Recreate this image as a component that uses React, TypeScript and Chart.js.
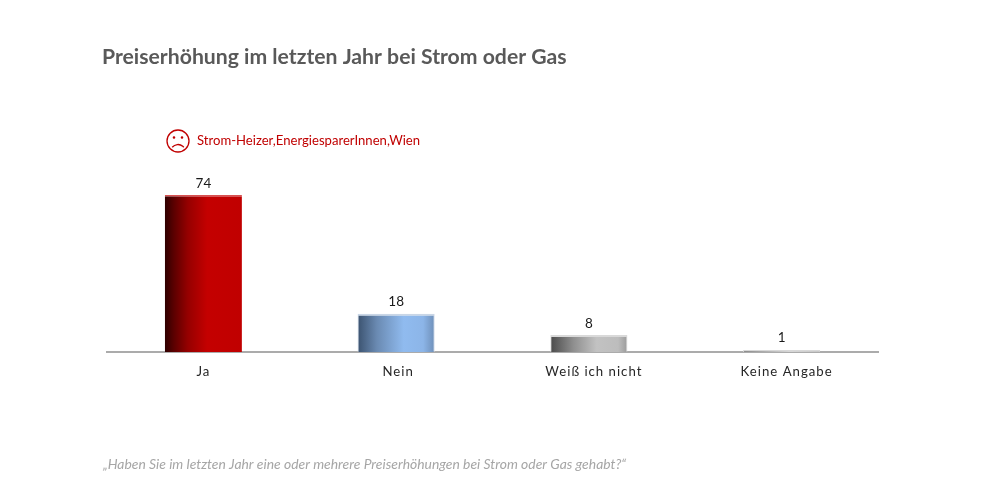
import React, { useEffect, useRef } from "react";
import { Chart, registerables } from "chart.js";

Chart.register(...registerables);

const categories = ["Ja", "Nein", "Weiß ich nicht", "Keine Angabe"];
const values = [74, 18, 8, 1];
const gradients: [number, string][][] = [
  [[0, "#2e0000"], [0.12, "#5c0000"], [0.3, "#960000"], [0.55, "#c40000"], [1, "#c00000"]],
  [[0, "#3b526f"], [0.25, "#6a8ab2"], [0.6, "#90bbef"], [0.85, "#8cb5e8"], [1, "#6e8fb8"]],
  [[0, "#4a4a4a"], [0.3, "#8f8f8f"], [0.6, "#c2c2c2"], [0.88, "#bdbdbd"], [1, "#9a9a9a"]],
  [[0, "#8a8a8a"], [0.6, "#d8d8d8"], [1, "#c8c8c8"]],
];
const edgeColors = ["#d85050", "#c9d6e6", "#d9d9d9", "#d8d8d8"];
const tickShift = [0, 2, 5, 5];
const titleText = "Preiserhöhung im letzten Jahr bei Strom oder Gas";
const legendText = "Strom-Heizer,EnergiesparerInnen,Wien";
const questionText = "„Haben Sie im letzten Jahr eine oder mehrere Preiserhöhungen bei Strom oder Gas gehabt?“";
const FONT = "Lato, 'Open Sans', sans-serif";

const overlay = {
  id: "overlay",
  beforeDraw(chart: any) {
    chart.ctx.letterSpacing = "1px";
    const items = chart.scales.x.getLabelItems(chart.chartArea);
    items.forEach((it: any, i: number) => {
      if (!it.shifted) {
        it.options.translation[0] += tickShift[i] || 0;
        it.shifted = true;
      }
    });
  },
  afterDatasetsDraw(chart: any) {
    const ctx = chart.ctx;
    ctx.save();
    ctx.letterSpacing = "0px";
    ctx.textBaseline = "alphabetic";
    ctx.textAlign = "center";
    ctx.fillStyle = "#1a1a1a";
    ctx.font = `13.5px ${FONT}`;
    chart.getDatasetMeta(0).data.forEach((bar: any, i: number) => {
      ctx.fillText(String(values[i]), bar.x, bar.y - 7.5);
    });
    ctx.textAlign = "left";
    ctx.fillStyle = "#595959";
    ctx.font = `bold 21.2px ${FONT}`;
    ctx.fillText(titleText, 102, 63.5);
    ctx.fillStyle = "#c00000";
    ctx.font = `13.1px ${FONT}`;
    ctx.fillText(legendText, 197, 145);
    ctx.fillStyle = "#a6a6a6";
    ctx.font = `italic 13.9px ${FONT}`;
    ctx.fillText(questionText, 103, 469);
    // sad face
    ctx.strokeStyle = "#c00000";
    ctx.fillStyle = "#c00000";
    ctx.lineWidth = 1.3;
    ctx.beginPath();
    ctx.arc(178, 141, 11, 0, Math.PI * 2);
    ctx.stroke();
    ctx.beginPath();
    ctx.arc(174, 137.5, 1.3, 0, Math.PI * 2);
    ctx.arc(182, 137.5, 1.3, 0, Math.PI * 2);
    ctx.fill();
    ctx.beginPath();
    ctx.arc(178, 152, 7.5, Math.PI * 1.22, Math.PI * 1.78);
    ctx.stroke();
    ctx.restore();
  },
};

export default function App() {
  const ref = useRef<HTMLCanvasElement>(null);
  useEffect(() => {
    document.body.style.margin = "0";
    const chart = new Chart(ref.current!, {
      type: "bar",
      data: {
        labels: categories,
        datasets: [
          {
            data: values,
            barPercentage: 0.4,
            categoryPercentage: 1,
            borderSkipped: false,
            borderColor: edgeColors,
            borderWidth: (c: any) =>
              c.dataIndex === 0
                ? { top: 1.5, left: 0, right: 0, bottom: 0 }
                : { top: 2, left: 1, right: 1, bottom: 0 },
            backgroundColor: (c: any) => {
              const stops = gradients[c.dataIndex];
              const xs = c.chart.scales.x;
              if (!stops || !xs || !c.chart.chartArea) return "#999";
              const x = xs.getPixelForValue(c.dataIndex);
              const w = (c.chart.chartArea.width / categories.length) * 0.4;
              const g = c.chart.ctx.createLinearGradient(x - w / 2, 0, x + w / 2, 0);
              stops.forEach(([o, col]) => g.addColorStop(o, col));
              return g;
            },
          },
        ],
      },
      options: {
        responsive: false,
        animation: false,
        events: [],
        layout: { padding: { left: 107, right: 115, top: 140, bottom: 0 } },
        plugins: { legend: { display: false }, title: { display: false }, tooltip: { enabled: false } },
        scales: {
          y: { display: false, min: 0, max: 100 },
          x: {
            afterFit: (s: any) => {
              s.height = 132;
            },
            grid: { display: false, drawTicks: false },
            border: { color: "#ababab", width: 2 },
            ticks: { color: "#262626", font: { family: FONT, size: 13.2 }, padding: 12, maxRotation: 0 },
          },
        },
      },
      plugins: [overlay],
    } as any);
    return () => chart.destroy();
  }, []);
  return <canvas ref={ref} width={993} height={484} style={{ display: "block" }} />;
}
